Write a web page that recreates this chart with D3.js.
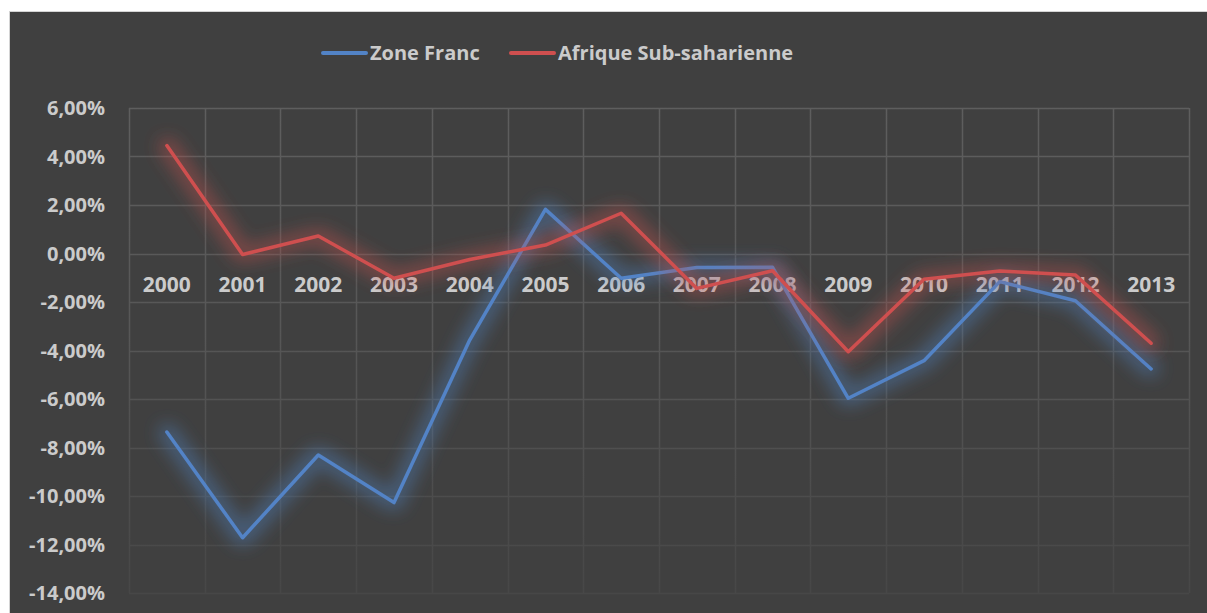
<!DOCTYPE html>
<html>
<head>
<meta charset="utf-8">
<script src="https://cdn.jsdelivr.net/npm/d3@7"></script>
<style>
  body { margin: 0; background: #fff; }
  svg { display: block; }
  text { font-family: "Open Sans", sans-serif; font-weight: 700; fill: #cbcbcb; }
</style>
</head>
<body>
<svg width="1207" height="613"></svg>
<script>
var years = ["2000", "2001", "2002", "2003", "2004", "2005", "2006",
  "2007", "2008", "2009", "2010", "2011", "2012", "2013"];
var zoneFranc = [-7.36, -11.72, -8.31, -10.27, -3.57, 1.82, -1.02,
  -0.58, -0.57, -5.97, -4.42, -1.16, -1.95, -4.76];
var afrique = [4.45, -0.04, 0.72, -1.02, -0.25, 0.35, 1.66,
  -1.44, -0.71, -4.05, -1.06, -0.72, -0.89, -3.70];
var yTicks = [6, 4, 2, 0, -2, -4, -6, -8, -10, -12, -14];
var seriesNames = ["Zone Franc", "Afrique Sub-saharienne"];

var svg = d3.select("svg"),
  margin = { top: 108, right: 18, bottom: 20, left: 129 },
  width = +svg.attr("width") - margin.left - margin.right,
  height = +svg.attr("height") - margin.top - margin.bottom;

var series = [
  { name: seriesNames[0], values: zoneFranc, color: "#5283c6", glow: "#4f81bd" },
  { name: seriesNames[1], values: afrique, color: "#cf4f4f", glow: "#c0504d" }
];

// chart background + border
svg.append("rect")
  .attr("x", 9.5).attr("y", 11.5)
  .attr("width", 1207).attr("height", 613)
  .attr("fill", "#404040")
  .attr("stroke", "#d4d4d4");

var defs = svg.append("defs");
var grad = defs.append("linearGradient")
  .attr("id", "gridFade")
  .attr("gradientUnits", "userSpaceOnUse")
  .attr("x1", 0).attr("y1", margin.top)
  .attr("x2", 0).attr("y2", margin.top + height);
grad.append("stop").attr("offset", "0%").attr("stop-color", "#5e5e5e");
grad.append("stop").attr("offset", "45%").attr("stop-color", "#575757");
grad.append("stop").attr("offset", "100%").attr("stop-color", "#474747");

// soft glow round each line
series.forEach(function (s, i) {
  var f = defs.append("filter")
    .attr("id", "glow" + i)
    .attr("x", "-20%").attr("y", "-20%")
    .attr("width", "140%").attr("height", "140%");
  f.append("feMorphology")
    .attr("in", "SourceAlpha").attr("operator", "dilate").attr("radius", 6)
    .attr("result", "thick");
  f.append("feGaussianBlur")
    .attr("in", "thick").attr("stdDeviation", 8).attr("result", "blur");
  f.append("feFlood").attr("flood-color", s.glow).attr("flood-opacity", 0.42);
  f.append("feComposite").attr("in2", "blur").attr("operator", "in").attr("result", "glowC");
  var m = f.append("feMerge");
  m.append("feMergeNode").attr("in", "glowC");
  m.append("feMergeNode").attr("in", "SourceGraphic");
});

var x = d3.scaleBand().domain(years).range([0, width]),
  y = d3.scaleLinear().domain([-14, 6]).range([height, 0]);

var g = svg.append("g")
  .attr("transform", "translate(" + margin.left + "," + margin.top + ")");

// grid
var grid = g.append("g")
  .attr("stroke", "url(#gridFade)")
  .attr("stroke-width", 1.5);
grid.selectAll(".h")
  .data(yTicks)
  .enter()
  .append("line")
  .attr("class", "h")
  .attr("x1", 0).attr("x2", width)
  .attr("y1", function (d) { return Math.round(y(d)) + 0.5; })
  .attr("y2", function (d) { return Math.round(y(d)) + 0.5; });
grid.selectAll(".v")
  .data(d3.range(years.length + 1))
  .enter()
  .append("line")
  .attr("class", "v")
  .attr("y1", 0).attr("y2", height)
  .attr("x1", function (i) { return Math.round(i * x.step()) + 0.5; })
  .attr("x2", function (i) { return Math.round(i * x.step()) + 0.5; });
// gradient is in svg space, grid is shifted: move gradient with it
grad.attr("gradientTransform", "translate(0," + (-margin.top) + ")");

// y labels
g.selectAll(".ylab")
  .data(yTicks)
  .enter()
  .append("text")
  .attr("class", "ylab")
  .attr("x", -24)
  .attr("y", function (d) { return y(d); })
  .attr("dy", "0.36em")
  .attr("text-anchor", "end")
  .style("font-size", "20px")
  .text(function (d) { return d3.format(".2f")(d).replace(".", ",").replace("−", "-") + "%"; });

// x labels sit just under the zero line
g.selectAll(".xlab")
  .data(years)
  .enter()
  .append("text")
  .attr("class", "xlab")
  .attr("x", function (d) { return x(d) + x.bandwidth() / 2; })
  .attr("y", y(0) + 38)
  .attr("text-anchor", "middle")
  .style("font-size", "21px")
  .text(function (d) { return d; });

var line = d3.line()
  .x(function (d, i) { return x(years[i]) + x.bandwidth() / 2; })
  .y(function (d) { return y(d); });

series.forEach(function (s, i) {
  g.append("path")
    .datum(s.values)
    .attr("fill", "none")
    .attr("stroke", s.color)
    .attr("stroke-width", 3.5)
    .attr("stroke-linejoin", "round")
    .attr("stroke-linecap", "round")
    .attr("filter", "url(#glow" + i + ")")
    .attr("d", line);
});

// legend
var legendX = [323, 511];
var legend = svg.append("g");
series.forEach(function (s, i) {
  legend.append("line")
    .attr("x1", legendX[i]).attr("x2", legendX[i] + 43)
    .attr("y1", 53).attr("y2", 53)
    .attr("stroke", s.color)
    .attr("stroke-width", 4)
    .attr("stroke-linecap", "round");
  legend.append("text")
    .attr("x", legendX[i] + 47)
    .attr("y", 53)
    .attr("dy", "0.36em")
    .style("font-size", "20px")
    .text(s.name);
});
</script>
</body>
</html>
